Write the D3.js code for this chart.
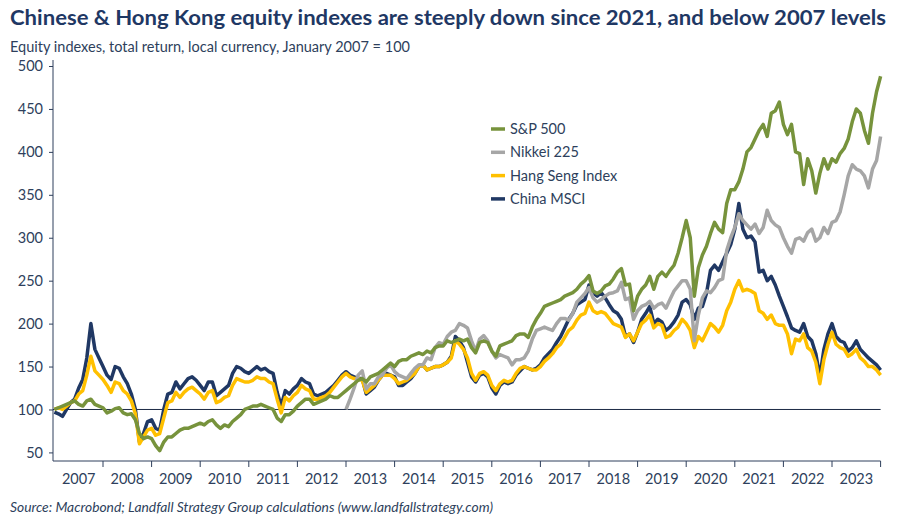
<!DOCTYPE html>
<html><head><meta charset="utf-8">
<script src="https://cdn.jsdelivr.net/npm/d3@7"></script>
<style>body{margin:0;background:#fff;font-family:Lato,"Open Sans",sans-serif}</style>
</head><body><svg id="c" width="900" height="525"></svg>
<script>
const startYear = 2007;
const yearLabels = ["2007","2008","2009","2010","2011","2012","2013","2014","2015","2016","2017","2018","2019","2020","2021","2022","2023"];
const yTicks = [50,100,150,200,250,300,350,400,450,500];
const seriesNames = ["S&P 500","Nikkei 225","Hang Seng Index","China MSCI"];
// monthly values, Jan 2007 .. Jan 2024
const sp500 = [
100,102,104,106,108,110,106,104,110,112,106,104,
102,96,98,101,102,96,94,95,88,72,66,68,
66,58,52,62,68,68,72,76,78,78,80,82,
84,82,86,88,82,78,82,80,86,90,94,100,
102,104,104,106,104,102,100,90,86,94,94,98,
104,108,112,112,106,108,110,112,116,114,114,118,
122,126,130,134,136,132,138,140,142,146,150,154,
150,156,158,158,162,164,166,164,168,166,172,174,
174,180,178,180,182,180,182,172,166,178,180,178,
168,162,174,176,178,180,186,188,188,184,196,205,
212,220,222,224,226,228,232,234,236,240,246,250,
256,238,235,238,244,246,252,260,264,245,246,215,
232,240,245,255,240,255,260,255,262,268,282,300,
320,300,232,265,280,290,305,318,310,306,340,356,
356,365,380,400,405,415,425,432,418,445,448,458,
432,420,432,400,398,362,392,378,352,375,392,380,
392,388,398,404,415,435,450,445,425,410,445,470,488];
// Nikkei starts Jan 2013
const nikkeiStart = 2013;
const nikkei = [
100,112,125,140,145,124,130,130,138,140,148,152,
144,140,138,136,142,148,152,152,160,158,172,178,
176,185,190,192,200,198,195,180,168,182,186,180,
168,160,164,162,160,152,158,158,160,168,182,192,
194,196,194,192,200,206,206,204,212,225,230,235,
242,230,225,228,232,235,236,238,248,228,230,205,
215,220,222,226,218,222,224,218,228,238,244,250,
250,240,180,210,230,238,236,242,250,252,285,300,
312,328,320,315,310,316,305,312,332,320,315,312,
300,290,282,298,300,296,306,310,296,300,312,305,
318,320,330,350,372,385,380,378,372,358,380,390,418];
const hangSeng = [
100,102,100,104,108,110,118,122,140,162,145,140,
135,128,120,132,130,122,118,110,95,60,68,76,
78,70,72,90,108,110,120,114,120,124,126,122,
118,112,120,122,108,110,114,116,128,136,134,132,
132,134,138,136,136,132,130,112,96,114,110,116,
120,128,124,122,112,112,114,116,120,126,132,138,
142,138,136,136,134,120,124,128,134,140,140,140,
136,130,132,134,138,142,150,152,146,148,150,150,
152,155,160,180,176,170,160,142,134,142,144,140,
128,122,130,134,132,134,142,148,150,148,146,146,
150,156,160,165,172,176,184,192,196,204,210,212,
225,215,212,214,212,206,200,198,196,184,188,180,
190,200,204,210,195,200,198,184,186,192,196,205,
200,192,172,185,180,190,200,196,190,198,215,225,
240,250,238,240,238,235,215,212,205,210,200,198,
198,188,165,182,180,188,172,168,155,130,158,176,
190,176,172,170,162,165,170,160,156,150,150,146,140];
const chinaMSCI = [
97,95,92,100,108,112,125,135,160,200,170,160,
150,140,135,150,148,138,130,118,100,62,72,86,
88,78,76,100,118,120,132,124,130,136,138,134,
128,122,132,132,116,120,124,128,142,150,148,144,
142,146,150,146,148,144,142,120,104,122,118,124,
128,136,132,130,118,116,118,120,124,128,134,140,
144,140,138,136,136,118,122,126,134,140,142,140,
138,128,128,132,136,142,150,152,146,148,150,150,
152,155,162,185,180,172,155,138,132,140,142,138,
125,118,128,132,130,132,140,145,150,148,146,148,
152,160,165,170,178,185,195,205,212,222,225,228,
245,236,232,236,230,222,215,212,205,185,188,178,
190,205,212,220,200,205,202,192,196,202,210,225,
228,222,205,218,220,235,262,268,262,272,282,292,
310,340,310,300,302,295,260,262,250,255,245,232,
220,208,195,192,190,200,185,180,165,138,170,188,
200,185,180,178,168,172,180,170,165,160,156,152,146];

const colors = {"S&P 500":"#77933C","Nikkei 225":"#A6A6A6","Hang Seng Index":"#FFC000","China MSCI":"#203864"};
const txt = "#2E3F5C";
const svg = d3.select("#c");
const x = d3.scaleLinear().domain([startYear, startYear+17]).range([54.4, 880.6]);
const y = d3.scaleLinear().domain([40, 507]).range([461, 60]);
const toPts = (arr, y0) => arr.map((v,i)=>({t:y0+i/12, v}));
const data = [
 {name:"China MSCI", pts:toPts(chinaMSCI,startYear)},
 {name:"Hang Seng Index", pts:toPts(hangSeng,startYear)},
 {name:"Nikkei 225", pts:toPts(nikkei,nikkeiStart)},
 {name:"S&P 500", pts:toPts(sp500,startYear)}
];

svg.append("text").attr("x",10).attr("y",25).attr("font-size",21.5).attr("font-weight","bold").attr("fill","#1F3864")
 .attr("textLength",876).attr("lengthAdjust","spacingAndGlyphs")
 .text("Chinese & Hong Kong equity indexes are steeply down since 2021, and below 2007 levels");
svg.append("text").attr("x",10).attr("y",52).attr("font-size",14.5).attr("fill",txt)
 .attr("textLength",400).attr("lengthAdjust","spacingAndGlyphs")
 .text("Equity indexes, total return, local currency, January 2007 = 100");
svg.append("text").attr("x",10).attr("y",512).attr("font-size",14).attr("font-style","italic").attr("fill",txt)
 .attr("textLength",483).attr("lengthAdjust","spacingAndGlyphs")
 .text("Source: Macrobond; Landfall Strategy Group calculations (www.landfallstrategy.com)");

// y axis
const ya = svg.append("g").attr("transform","translate(53,0)")
 .call(d3.axisLeft(y).tickValues(yTicks).tickSize(4).tickPadding(6));
ya.select(".domain").attr("stroke",txt).attr("d",`M0,${y(507)}V461`);
ya.selectAll("line").attr("stroke",txt);
ya.selectAll("text").attr("font-size",14.5).attr("fill",txt).attr("font-family","Lato,sans-serif");

// x axis
const xa = svg.append("g").attr("transform","translate(0,461)");
xa.append("line").attr("x1",53).attr("x2",x(startYear+17)).attr("stroke",txt);
d3.range(startYear+1, startYear+18).forEach(t=>{
 xa.append("line").attr("x1",x(t)).attr("x2",x(t)).attr("y1",0).attr("y2",6).attr("stroke",txt);
});
yearLabels.forEach((l,i)=>{
 xa.append("text").attr("x",x(startYear+i+0.5)).attr("y",23).attr("text-anchor","middle")
  .attr("font-size",14.5).attr("fill",txt).text(l);
});

// 100 line
svg.append("line").attr("x1",53).attr("x2",x(startYear+17)).attr("y1",y(100)).attr("y2",y(100)).attr("stroke","#1b2a44").attr("stroke-width",1);

const line = d3.line().x(d=>x(d.t)).y(d=>y(d.v));
data.forEach(s=>{
 svg.append("path").datum(s.pts).attr("d",line).attr("fill","none")
  .attr("stroke",colors[s.name]).attr("stroke-width",3.5).attr("stroke-linejoin","round");
});

// legend
seriesNames.forEach((n,i)=>{
 const yy = 129 + i*23.3;
 svg.append("line").attr("x1",491).attr("x2",505).attr("y1",yy).attr("y2",yy).attr("stroke",colors[n]).attr("stroke-width",3.5);
 svg.append("text").attr("x",510).attr("y",yy+5).attr("font-size",14.5).attr("fill",txt).text(n);
});
</script></body></html>
